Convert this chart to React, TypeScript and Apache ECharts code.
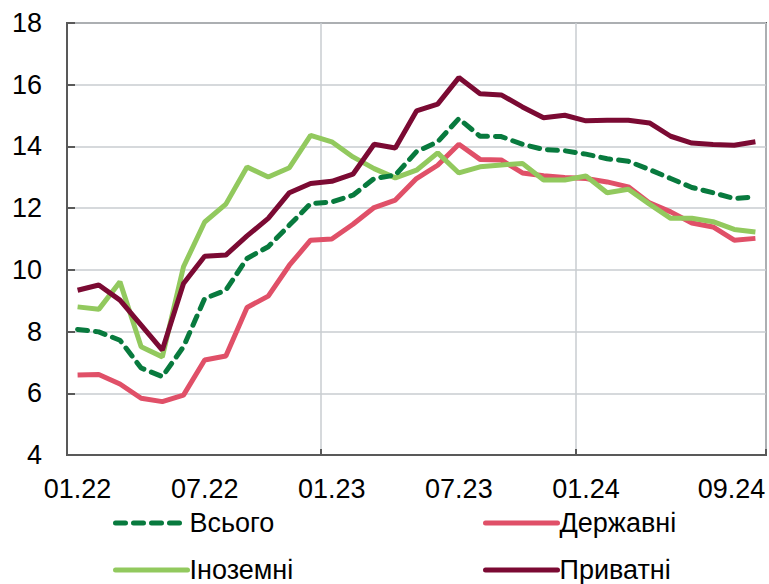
import React, { useEffect, useRef } from "react";
import * as echarts from "echarts";

const categories: string[] = [
  "01.22", "02.22", "03.22", "04.22", "05.22", "06.22", "07.22", "08.22", "09.22", "10.22", "11.22", "12.22",
  "01.23", "02.23", "03.23", "04.23", "05.23", "06.23", "07.23", "08.23", "09.23", "10.23", "11.23", "12.23",
  "01.24", "02.24", "03.24", "04.24", "05.24", "06.24", "07.24", "08.24", "09.24",
];

const shownLabels: string[] = ["01.22", "07.22", "01.23", "07.23", "01.24", "09.24"];

const total: number[] = [
  8.07, 7.99, 7.72, 6.82, 6.54, 7.51, 9.07, 9.34, 10.37, 10.75, 11.45, 12.15,
  12.2, 12.42, 12.96, 13.07, 13.83, 14.15, 14.9, 14.33, 14.32, 14.07, 13.9, 13.86,
  13.75, 13.6, 13.52, 13.25, 12.96, 12.67, 12.5, 12.31, 12.37,
];

const stateBanks: number[] = [
  6.59, 6.61, 6.3, 5.84, 5.73, 5.94, 7.08, 7.21, 8.78, 9.15, 10.15, 10.96,
  11.0, 11.48, 12.02, 12.26, 12.96, 13.39, 14.07, 13.58, 13.56, 13.14, 13.05, 12.99,
  12.96, 12.85, 12.69, 12.17, 11.88, 11.52, 11.39, 10.96, 11.02,
];

const foreignBanks: number[] = [
  8.8, 8.72, 9.61, 7.51, 7.18, 10.1, 11.55, 12.13, 13.33, 13.01, 13.31, 14.36,
  14.15, 13.66, 13.28, 12.98, 13.23, 13.79, 13.14, 13.34, 13.4, 13.45, 12.91, 12.91,
  13.04, 12.5, 12.61, 12.13, 11.67, 11.67, 11.56, 11.31, 11.23,
];

const privateBanks: number[] = [
  9.34, 9.51, 9.02, 8.21, 7.4, 9.56, 10.44, 10.48, 11.1, 11.67, 12.5, 12.8,
  12.87, 13.1, 14.07, 13.95, 15.15, 15.37, 16.23, 15.71, 15.67, 15.28, 14.93, 15.01,
  14.83, 14.85, 14.85, 14.76, 14.33, 14.11, 14.06, 14.04, 14.15,
];

const seriesNames: string[] = ["Всього", "Державні", "Іноземні", "Приватні"];

const FONT = "'Liberation Sans', Arial, sans-serif";

export default function App() {
  const ref = useRef<HTMLDivElement>(null);

  useEffect(() => {
    if (!ref.current) return;
    const chart = echarts.init(ref.current, undefined, { renderer: "svg" });
    const lastLabel = shownLabels[shownLabels.length - 1];
    const legendBase = {
      orient: "horizontal",
      padding: 0,
      itemWidth: 72,
      itemHeight: 6,
      itemGap: 0,
      itemStyle: { opacity: 0 },
      lineStyle: { width: 5, cap: "round" },
      textStyle: { fontSize: 27, fontFamily: FONT, color: "#000", lineHeight: 30, padding: [0, 0, 0, -3] },
      selectedMode: false,
    };
    chart.setOption({
      animation: false,
      textStyle: { fontFamily: FONT },
      grid: {
        left: 67,
        right: 3,
        top: 23,
        bottom: 129,
        show: true,
        borderColor: "#595959",
        borderWidth: 2,
        backgroundColor: "transparent",
      },
      legend: [
        { ...legendBase, data: [seriesNames[0]], left: 113, top: 508 },
        { ...legendBase, data: [seriesNames[1]], left: 483, top: 508 },
        { ...legendBase, data: [seriesNames[2]], left: 113, top: 555 },
        { ...legendBase, data: [seriesNames[3]], left: 483, top: 555 },
      ],
      xAxis: {
        type: "category",
        data: categories,
        boundaryGap: true,
        axisLine: { show: true, lineStyle: { color: "#595959", width: 2 } },
        axisTick: {
          show: true,
          inside: true,
          length: 6,
          interval: (i: number) => i % 12 === 0,
          lineStyle: { color: "#595959", width: 2 },
        },
        splitLine: {
          show: true,
          interval: (i: number) => i % 12 === 0,
          lineStyle: { color: "#c9cdd1", width: 1.5 },
        },
        axisLabel: {
          interval: (i: number, v: string) => shownLabels.indexOf(v) >= 0,
          fontSize: 27,
          color: "#000",
          fontFamily: FONT,
          margin: 20,
          formatter: (v: string) => (v === lastLabel ? `{last|${v}}` : v),
          rich: {
            last: { fontSize: 27, color: "#000", fontFamily: FONT, padding: [0, 48, 0, 0] },
          },
        },
      },
      yAxis: {
        type: "value",
        min: 4,
        max: 18,
        interval: 2,
        axisLine: { show: true, lineStyle: { color: "#595959", width: 2 } },
        axisTick: { show: true, inside: true, length: 8, lineStyle: { color: "#595959", width: 2 } },
        splitLine: { show: true, lineStyle: { color: "#c9cdd1", width: 1.5 } },
        axisLabel: { fontSize: 27, color: "#000", fontFamily: FONT, margin: 25 },
      },
      series: [
        {
          name: seriesNames[0],
          type: "line",
          data: total,
          symbol: "none",
          z: 4,
          itemStyle: { color: "#087a3e" },
          lineStyle: { color: "#087a3e", width: 5, type: [10, 8], cap: "round" },
        },
        {
          name: seriesNames[1],
          type: "line",
          data: stateBanks,
          symbol: "none",
          z: 2,
          itemStyle: { color: "#e05068" },
          lineStyle: { color: "#e05068", width: 5 },
        },
        {
          name: seriesNames[2],
          type: "line",
          data: foreignBanks,
          symbol: "none",
          z: 3,
          itemStyle: { color: "#92c95e" },
          lineStyle: { color: "#92c95e", width: 5 },
        },
        {
          name: seriesNames[3],
          type: "line",
          data: privateBanks,
          symbol: "none",
          z: 5,
          itemStyle: { color: "#7b0a33" },
          lineStyle: { color: "#7b0a33", width: 5 },
        },
      ],
    });
    return () => chart.dispose();
  }, []);

  return (
    <div
      ref={ref}
      style={{ position: "fixed", left: 0, top: 0, width: 769, height: 584, background: "#fff" }}
    />
  );
}
